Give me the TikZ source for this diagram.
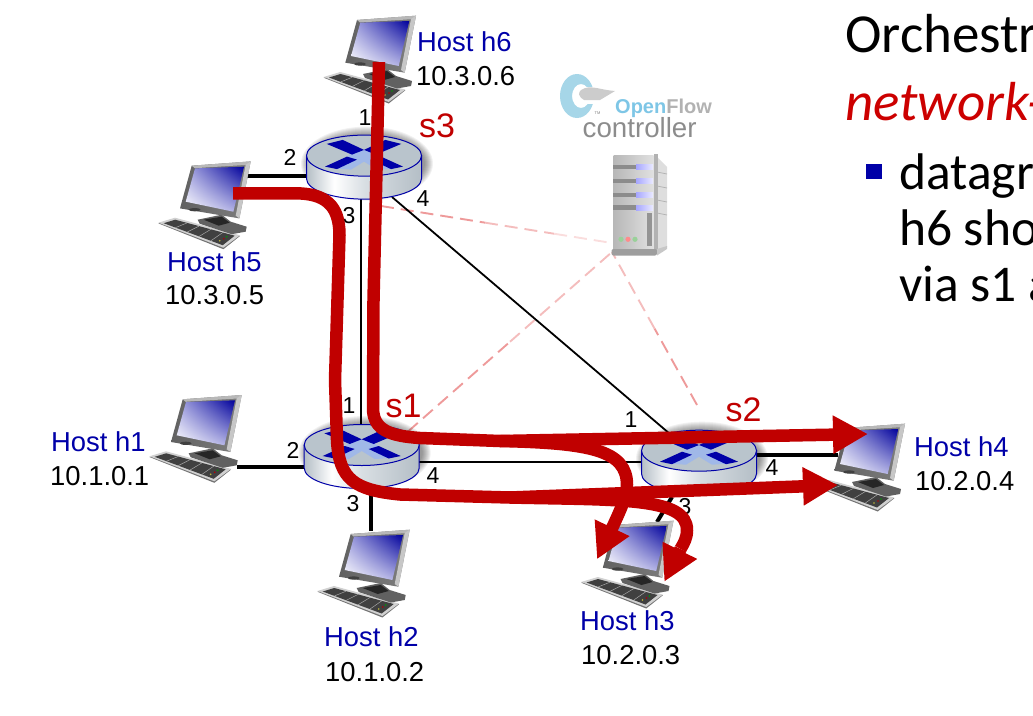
\documentclass[tikz,border=0pt]{standalone}
\usepackage{fontspec}
\setmainfont{Liberation Sans}
\newfontfamily\cali{Carlito}
\usetikzlibrary{arrows.meta,calc,shadings}
\definecolor{netred}{HTML}{C00000}
\definecolor{hostblue}{HTML}{0000A8}
\definecolor{titlered}{HTML}{CC0000}
\definecolor{rtop}{HTML}{B9C4CC}
\definecolor{rside}{HTML}{B4BEC6}
\definecolor{rline}{HTML}{0000A8}
\definecolor{rlight}{HTML}{A0B8E8}
\definecolor{dashA}{HTML}{EE9A9A}
\definecolor{dashB}{HTML}{F4BDBD}
\definecolor{dashC}{HTML}{FADDDD}
\definecolor{logoring}{HTML}{A6D6E8}
\definecolor{logoopen}{HTML}{7EC6E6}
\pgfdeclarehorizontalshading{routerside}{100bp}{color(0bp)=(rside); color(25bp)=(rside); color(37bp)=(white); color(50bp)=(rtop!55!white); color(75bp)=(rside); color(100bp)=(rside)}
\tikzset{
  x=1pt,y=-1pt,
  hostpic/.pic={
    % keyboard
    \fill[black!55] (-33.3,57.7) -- (-16.7,52.7) -- (48.3,70.3) -- (31.7,83.5) -- cycle;
    \fill[black!18] (-33.3,57) -- (-16.7,52) -- (48.3,69.6) -- (31.7,82) -- cycle;
    \fill[black!75] (-28,57.5) -- (-16.5,54) -- (43,70) -- (31,79.5) -- cycle;
    \foreach \t in {0.2,0.4,0.6,0.8}{
      \draw[black!35,line width=.5] ($(-28,57.5)!\t!(31,79.5)$) -- ($(-16.5,54)!\t!(43,70)$);}
    \fill[yellow!70!black] (28,75) circle[radius=.9];
    \fill[red!70!black] (32,73) circle[radius=.9];
    \fill[green!60!black] (35,71) circle[radius=.9];
    % stand
    \fill[black!62] (6,54) -- (30,49) -- (39,56) -- (55,61) -- (54,66) -- (40,68.5) -- (8,58) -- cycle;
    \fill[black!85] (12,54) -- (30,51) -- (38,57) -- (27,60) -- cycle;
    % monitor
    \shade[left color=black!62,right color=black!50] (0,0) -- (59,-4.3) -- (47.7,52.7) -- (-11.7,42.7) -- cycle;
    \fill[black!28] (0,0) -- (59,-4.3) -- (57.5,-1) -- (3,2.5) -- cycle;
    \fill[black!22] (59,-4.3) -- (47.7,52.7) -- (44,50) -- (54,-1) -- cycle;
    \begin{scope}
      \clip (3.3,2.7) -- (52.3,1) -- (41.7,46) -- (-6,36) -- cycle;
      \shade[upper right=hostblue!92!black,lower left=white,upper left=hostblue!35!white,lower right=hostblue!35!white] (-6,1) rectangle (52.3,46);
    \end{scope}
    \fill[black!75] (3,44) ellipse[x radius=6pt,y radius=1.6pt];
  },
  routerpic/.pic={
    \foreach \r in {1,...,9}{
      \fill[black,opacity=.055] (3,8) ellipse[x radius={57pt+\r*1pt},y radius={28pt+\r*1pt}];}
    \shade[shading=routerside,draw=rline,line width=1]
      (-57.5,0) -- (-57.5,23) arc[start angle=180,end angle=360,x radius=57.5pt,y radius=20.5pt]
      -- (57.5,0) -- cycle;
    \fill[rtop,draw=rline,line width=1] (0,0) ellipse[x radius=57.5pt,y radius=20.5pt];
    \fill[rlight] (-14,-1) -- (0,-6) -- (14,-1) -- (29,13) -- (13,14) -- (0,6) -- (-13,14) -- (-29,13) -- cycle;
    \fill[rline] (-37.3,-11.7) -- (-21.3,-15.7) -- (0,-5.7) -- (-12,-1) -- cycle;
    \fill[rline] (37.3,-11.7) -- (21.3,-15.7) -- (0,-5.7) -- (12,-1) -- cycle;
    \fill[rline] (-39,11) -- (-17,1) -- (-7,4) -- (-27,13.5) -- cycle;
    \fill[rline] (39,11) -- (17,1) -- (7,4) -- (27,13.5) -- cycle;
  },
  hostname/.style={font=\fontsize{27.4pt}{30pt}\selectfont,text=hostblue,anchor=base west,inner sep=0pt},
  hostip/.style={font=\fontsize{27.4pt}{30pt}\selectfont,text=black,anchor=base west,inner sep=0pt},
  portnum/.style={font=\fontsize{23pt}{25pt}\selectfont,text=black,anchor=center,inner sep=0pt},
  swname/.style={font=\fontsize{34pt}{36pt}\selectfont,text=netred,anchor=base west,inner sep=0pt},
  slidetitle/.style={font=\cali\fontsize{55pt}{58pt}\selectfont,anchor=base west,inner sep=0pt},
  slidebody/.style={font=\cali\fontsize{51.5pt}{56pt}\selectfont,anchor=base west,inner sep=0pt,text=black},
  thicklink/.style={draw=black,line width=4},
  thinlink/.style={draw=black,line width=1.8},
  ctrlA/.style={draw=dashA,line width=1.9,dash pattern=on 13pt off 7pt},
  ctrlB/.style={draw=dashB,line width=1.9,dash pattern=on 13pt off 7pt},
  ctrlC/.style={draw=dashC,line width=1.9,dash pattern=on 13pt off 7pt},
  flow/.style={draw=netred,line width=12.5,line join=round},
  flowhead/.style={flow,-{Triangle[length=35pt,width=36pt]}},
}
\begin{document}
\begin{tikzpicture}
\useasboundingbox (0,0) rectangle (1033,715);
\clip (0,0) rectangle (1033,715);

% anchors of the devices
\coordinate (h1) at (182.7,399.3);
\coordinate (h2) at (350.7,534);
\coordinate (h3) at (614.5,525);
\coordinate (h4) at (846,428);
\coordinate (h5) at (191.7,165.7);
\coordinate (h6) at (357,20);
\coordinate (s1) at (361.7,445);
\coordinate (s2) at (699,450.7);
\coordinate (s3) at (364,155.6);

% link ends
\coordinate (h5p) at (246,176);
\coordinate (s3w) at (310,176);
\coordinate (h1p) at (237,466.7);
\coordinate (s1w) at (308,466.7);
\coordinate (s1s) at (371,485);
\coordinate (h2p) at (371,531);
\coordinate (s1e) at (417,461.7);
\coordinate (s2w) at (645,461.7);
\coordinate (s2e) at (755,455);
\coordinate (h4p) at (838,455);
\coordinate (s2s) at (672,497);
\coordinate (h3p) at (657,522);
\coordinate (s3s) at (361,195);
\coordinate (s1n) at (361,428);
\coordinate (s3se) at (392,197);
\coordinate (s2nw) at (670,434);

% controller ends and logo
\coordinate (srvA) at (612,243);
\coordinate (srvB) at (612,252);
\coordinate (s3c) at (381,206);
\coordinate (s1c) at (408,431.5);
\coordinate (s2c) at (697,405);

% controller channels
\draw[ctrlA] (s3c) -- ($(s3c)!.45!(srvA)$);
\draw[ctrlB] ($(s3c)!.45!(srvA)$) -- ($(s3c)!.75!(srvA)$);
\draw[ctrlC] ($(s3c)!.75!(srvA)$) -- (srvA);
\draw[ctrlA] (s1c) -- ($(s1c)!.5!(srvB)$);
\draw[ctrlB] ($(s1c)!.5!(srvB)$) -- (srvB);
\draw[ctrlA] (s2c) -- ($(s2c)!.5!(srvB)$);
\draw[ctrlB] ($(s2c)!.5!(srvB)$) -- (srvB);

% logo
\begin{scope}
  \fill[even odd rule,logoring] (577,96) ellipse[x radius=17pt,y radius=22pt]
    (581,96) ellipse[x radius=9pt,y radius=12pt];
  \fill[white] (586,87) rectangle (600,104);
  \fill[black!20] (581,90) .. controls (590,84) and (600,90) .. (615,91) -- (600,100) -- (584,100) .. controls (578,96) and (578,93) .. (581,90) -- cycle;
\end{scope}
\node[font=\fontsize{4pt}{5pt}\selectfont,text=black!50,anchor=center,inner sep=0pt] (tm) at (597.5,113.5) {TM};
\node[font=\bfseries\fontsize{20pt}{22pt}\selectfont,anchor=base west,inner sep=0pt] (oflogo) at (615,113) {\textcolor{logoopen}{Open}\textcolor{black!30}{Flow}};
\node[font=\fontsize{27.7pt}{30pt}\selectfont,text=black!45,anchor=base west,inner sep=0pt] (ctrlname) at (582.5,137) {controller};

% server
\begin{scope}
  \fill[black!13] (657,157) -- (667,167) -- (667,247) -- (657,252) -- cycle;
  \foreach \y in {172,186,200,213}{\draw[black!30,line width=.7] (657,\y) -- (667,\y+2);}
  \shade[left color=black!28,right color=black!12] (613.5,155) rectangle (653.5,250);
  \fill[black!30] (653.5,154) rectangle (657.5,251);
  \foreach \y in {167,181,195,207.5}{
    \fill[black!45] (613,\y-2.2) rectangle (637,\y+2.2);
    \shade[left color=blue!35!white,right color=blue!8!white] (636,\y-2.5) rectangle (653,\y+2.5);}
  \fill[black!42] (647.3,213) rectangle (651.7,246);
  \fill[green!55!black!40] (621,239.3) circle[radius=2.6];
  \fill[red!45!white] (628,239.3) circle[radius=2.6];
  \fill[green!55!black!40] (635,239.3) circle[radius=2.6];
  \fill[black!38,rounded corners=2pt] (611.5,249) rectangle (657,255.5);
  \fill[black!22] (657,249) -- (667,246) -- (667,249) -- (657,255.5) -- cycle;
\end{scope}

% links
\draw[thicklink] (h5p) -- (s3w);
\draw[thicklink] (h1p) -- (s1w);
\draw[thicklink] (s1s) -- (h2p);
\draw[thicklink] (s2e) -- (h4p);
\draw[thicklink] (s2s) -- (h3p);
\draw[thinlink] (s3s) -- (s1n);
\draw[thinlink] (s3se) -- (s2nw);
\draw[thinlink] (s1e) -- (s2w);

% devices
\pic at (h1) {hostpic};
\pic at (h2) {hostpic};
\pic at (h3) {hostpic};
\pic at (h4) {hostpic};
\pic at (h5) {hostpic};
\pic at (h6) {hostpic};
\pic at (s3) {routerpic};
\pic at (s1) {routerpic};
\pic at (s2) {routerpic};

% labels
\node[hostname] (nh6) at (417,51) {Host h6};
\node[hostip] (ip6) at (416,85) {10.3.0.6};
\node[hostname] (nh5) at (167,271) {Host h5};
\node[hostip] (ip5) at (165,304) {10.3.0.5};
\node[hostname] (nh1) at (51,451) {Host h1};
\node[hostip] (ip1) at (50,485) {10.1.0.1};
\node[hostname] (nh2) at (324,646) {Host h2};
\node[hostip] (ip2) at (325,681) {10.1.0.2};
\node[hostname] (nh3) at (580,630) {Host h3};
\node[hostip] (ip3) at (581,664) {10.2.0.3};
\node[hostname] (nh4) at (914,456) {Host h4};
\node[hostip] (ip4) at (915,490) {10.2.0.4};
\node[swname] (ns3) at (419,137) {s3};
\node[swname] (ns1) at (385.5,417) {s1};
\node[swname] (ns2) at (725.5,421.7) {s2};
\node[portnum] (p31) at (365,118) {1};
\node[portnum] (p32) at (290,157) {2};
\node[portnum] (p33) at (349,216) {3};
\node[portnum] (p34) at (423,199) {4};
\node[portnum] (p11) at (349,406) {1};
\node[portnum] (p12) at (293,450) {2};
\node[portnum] (p13) at (353,504) {3};
\node[portnum] (p14) at (433,476) {4};
\node[portnum] (p21) at (631,420) {1};
\node[portnum] (p24) at (772,468) {4};
\node[portnum] (p23) at (685,507) {3};

% flows
\coordinate (h6out) at (379,62);
\coordinate (h5out) at (233,193.3);
\coordinate (h4in) at (868,434);
\coordinate (h4low) at (838,485);
\coordinate (h3a) at (597,559.3);
\coordinate (h3b) at (664.3,581.7);
\coordinate (fork6) at (500,441);
\coordinate (fork5) at (510,497.5);
\draw[flow] (fork6) .. controls (590,443) and (627,450) .. (627,485) .. controls (627,497) and (618,515) .. (612.3,527.7);
\draw[flowhead] (612.5,527) -- (h3a);
\draw[flow] (fork5) .. controls (620,500) and (687,497) .. (687,530) .. controls (687,538) and (684,543) .. (680.5,549);
\draw[flowhead] (680.5,549) -- (h3b);
\draw[flowhead] (h6out) -- (373.5,300) -- (373,408) .. controls (373,430) and (390,436) .. (420,438) -- (fork6) -- (h4in);
\draw[flowhead] (h5out) -- (295,193.3) .. controls (325,193.3) and (339.5,205) .. (339.5,235) -- (335,380) -- (337,440) .. controls (339,480) and (355,490) .. (400,494.5) -- (fork5) -- (h4low);

% slide text
\node[slidetitle,text=black] (t1) at (845,52.7) {Orchestr};
\node[slidetitle,text=titlered,font=\cali\itshape\fontsize{55pt}{58pt}\selectfont] (t2) at (845,120.7) {network-};
\fill[hostblue] (866,164) rectangle (881.5,179);
\node[slidebody] (t3) at (899,189) {datagr};
\node[slidebody] (t4) at (899,245) {h6 sho};
\node[slidebody] (t5) at (899,301.7) {via s1 a};
\end{tikzpicture}
\end{document}
